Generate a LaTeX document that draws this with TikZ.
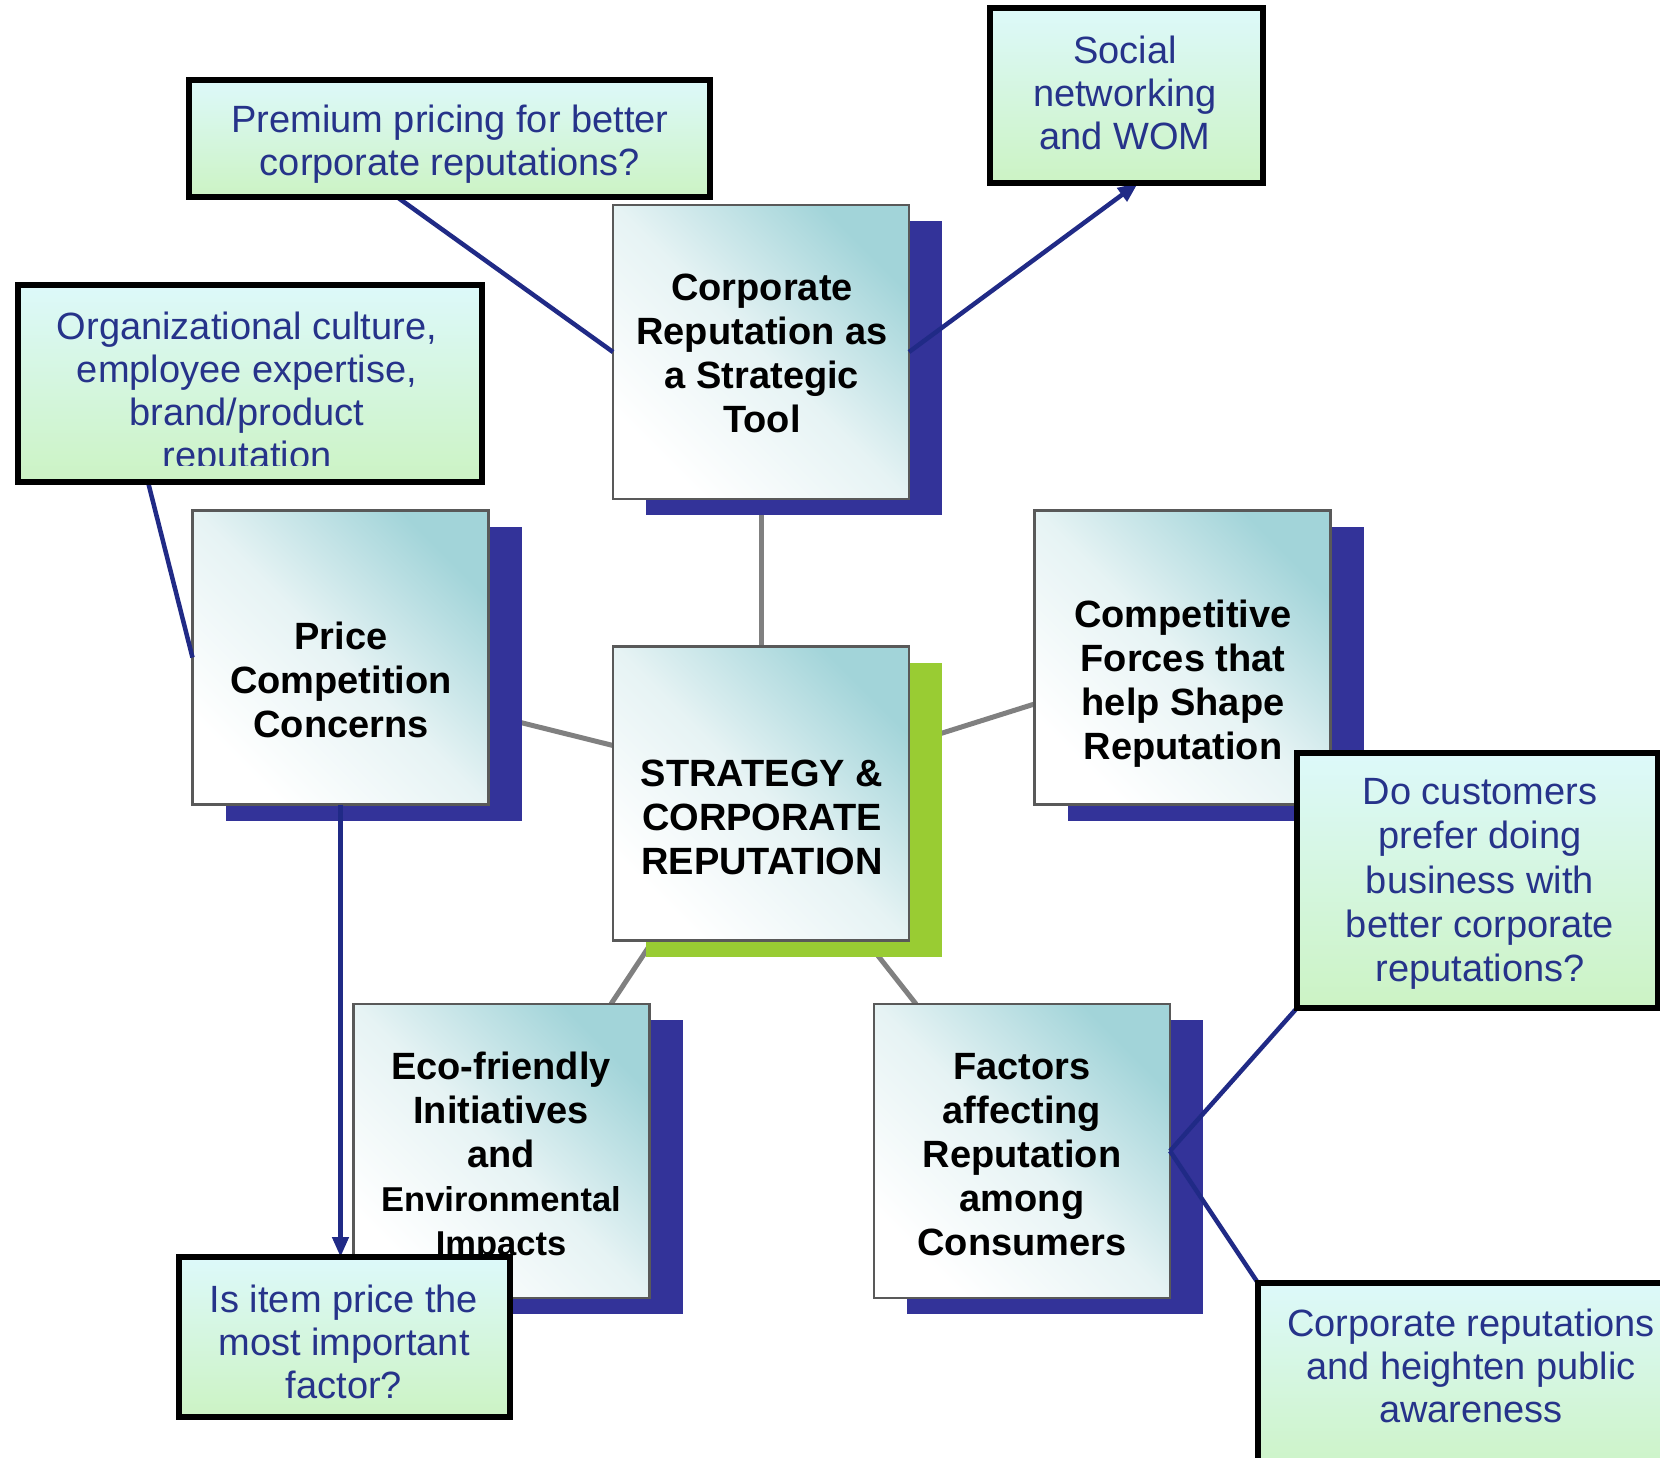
\documentclass[tikz,border=0pt]{standalone}
\usepackage{fontspec}
\setmainfont{Liberation Sans}
\usetikzlibrary{shadows,arrows.meta}
\definecolor{navy}{HTML}{26338A}
\definecolor{linenavy}{HTML}{202A86}
\definecolor{shblue}{HTML}{333399}
\definecolor{shgreen}{HTML}{99CC33}
\definecolor{tealA}{HTML}{A2D4D9}
\definecolor{tealmid}{HTML}{E6F3F4}
\definecolor{calltop}{HTML}{DDF9FA}
\definecolor{callbot}{HTML}{CCF3C4}
\definecolor{linegray}{HTML}{808080}
\pgfdeclarelayer{background}
\pgfdeclarelayer{fore}
\pgfsetlayers{background,main,fore}
\tikzset{
  mainbox/.style={draw=black!65, line width=2.5pt, minimum width=296pt, minimum height=294pt,
    inner sep=0pt, outer sep=0pt,
    top color=tealA, bottom color=white, middle color=tealmid, shading angle=-45},
  blueshadow/.style={drop shadow={fill=shblue, opacity=1, shadow xshift=33pt, shadow yshift=-16pt}},
  greenshadow/.style={drop shadow={fill=shgreen, opacity=1, shadow xshift=33pt, shadow yshift=-16pt}},
  maintext/.style={align=center, font=\fontsize{38}{44}\selectfont\bfseries, text=black, inner sep=0pt},
  callbox/.style={draw=black, line width=6pt, inner sep=0pt, outer sep=0pt,
    top color=calltop, bottom color=callbot},
  calltext/.style={align=center, font=\fontsize{38}{43}\selectfont, text=navy, inner sep=0pt},
  graylink/.style={draw=linegray, line width=5pt},
  bluelink/.style={draw=linenavy, line width=4.5pt},
  bluearrow/.style={bluelink, -{Triangle[length=20pt,width=16pt]}},
}
\begin{document}
\begin{tikzpicture}[x=1pt,y=-1pt]
\begin{pgfonlayer}{background}
\fill[white] (0,0) rectangle (1660,1458);
\end{pgfonlayer}
\useasboundingbox (0,0) rectangle (1660,1458);

% main boxes
\node[mainbox, blueshadow] (tool) at (761,352) {};
\node[mainbox, greenshadow] (center) at (761,793.5) {};
\node[mainbox, blueshadow] (price) at (340.5,657.5) {};
\node[mainbox, blueshadow] (compet) at (1182.5,657.5) {};
\node[mainbox, blueshadow] (eco) at (501.5,1151) {};
\node[mainbox, blueshadow] (factors) at (1022,1151) {};

\node[maintext] (tooltext) at (762,353) {Corporate\\Reputation as\\a Strategic\\Tool};
\node[maintext] (centertext) at (762,817) {STRATEGY \&\\CORPORATE\\REPUTATION};
\node[maintext] (pricetext) at (341,680) {Price\\Competition\\Concerns};
\node[maintext] (complettext) at (1183,684) {Competitive\\Forces that\\help Shape\\Reputation};
\node[maintext] (ecotext) at (501,1157) {Eco-friendly\\Initiatives\\and\\{\fontsize{34.5}{43}\selectfont Environmental}\\{\fontsize{34.5}{43}\selectfont Impacts}};
\node[maintext] (factorstext) at (1022,1155) {Factors\\affecting\\Reputation\\among\\Consumers};

% callouts
\begin{pgfonlayer}{fore}
\node[callbox, minimum width=521pt, minimum height=117pt] (premium) at (449.5,138.5) {};
\node[calltext] (premiumtext) at (450,144) {Premium pricing for better\\corporate reputations?};
\node[callbox, minimum width=273pt, minimum height=175pt] (social) at (1126.5,95.5) {};
\node[calltext] (socialtext) at (1125,93) {Social\\networking\\and WOM};
\node[callbox, draw=none, minimum width=464pt, minimum height=197pt] (org) at (250,383.5) {};
\begin{scope}
\clip (org.north west) rectangle (480,465);
\node[calltext] (orgtext) at (247,394.5) {Organizational culture,\\employee expertise,\\brand/product\\reputation};
\end{scope}
\draw[black, line width=6pt] (org.south west) rectangle (org.north east);
\node[callbox, minimum width=331pt, minimum height=160pt] (isitem) at (344.5,1337) {};
\node[calltext] (isitemtext) at (344,1342) {Is item price the\\most important\\factor?};
\node[callbox, minimum width=361pt, minimum height=255pt] (docust) at (1477.5,880.5) {};
\node[calltext, font=\fontsize{38}{44.2}\selectfont] (docusttext) at (1480,884) {Do customers\\prefer doing\\business with\\better corporate\\reputations?};
\node[callbox, minimum width=426pt, minimum height=197pt] (corprep) at (1471,1381.5) {};
\node[calltext] (corpreptext) at (1471,1366) {Corporate reputations\\and heighten public\\awareness};
\end{pgfonlayer}

% gray connectors
\begin{pgfonlayer}{background}
\draw[graylink] (tool.south) -- (center.north);
\draw[graylink] ([yshift=-57pt]price.east) -- ([yshift=48pt]center.west);
\draw[graylink] ([yshift=50pt]center.east) -- ([yshift=-46.5pt]compet.west);
\draw[graylink] ([xshift=-108pt]center.south) -- ([xshift=109.5pt]eco.north);
\draw[graylink] ([xshift=105pt]center.south) -- ([xshift=-106pt]factors.north);
\end{pgfonlayer}

% blue connectors
\draw[bluelink] ([xshift=-52.5pt]premium.south) -- (tool.west);
\draw[bluearrow] (tool.east) -- ([xshift=11.5pt]social.south);
\draw[bluelink] ([xshift=-102pt]org.south) -- (price.west);
\draw[bluearrow] (price.south) -- (price.south |- isitem.north);
\draw[bluelink] (factors.east) -- (docust.south west);
\draw[bluelink] (factors.east) -- (corprep.north west);
\end{tikzpicture}
\end{document}
